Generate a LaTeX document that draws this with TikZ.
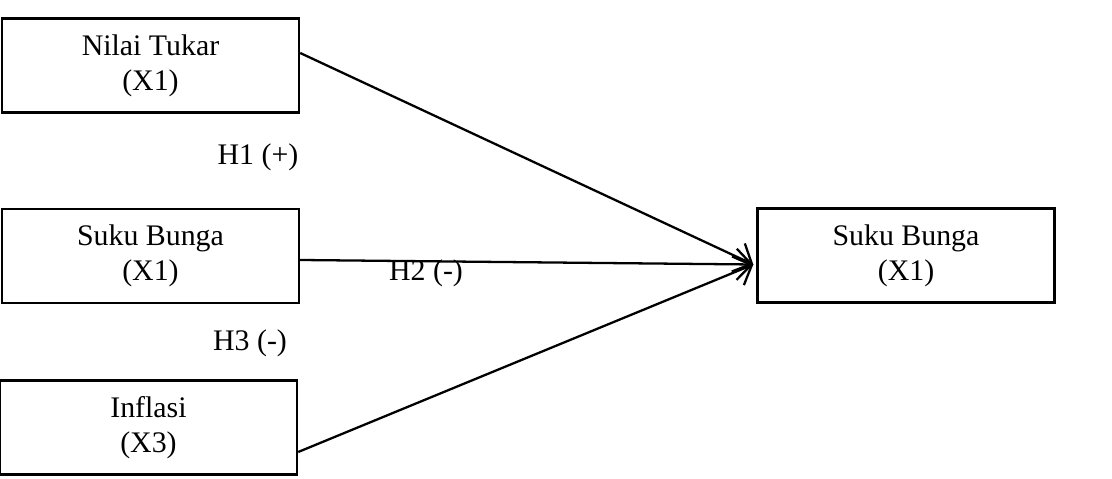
\documentclass[tikz,border=0pt]{standalone}
\usepackage{fontspec}
\setmainfont{Liberation Serif}
\usetikzlibrary{arrows.meta,positioning}

\begin{document}
\begin{tikzpicture}[
  x=0.02cm, y=-0.02cm,
  box/.style={draw, line width=1.4pt, align=center,
    font=\fontsize{17}{20}\selectfont,
    minimum width=5.94cm, minimum height=1.88cm, inner sep=0pt},
  hyp/.style={font=\fontsize{17}{19}\selectfont, inner sep=0pt},
  arrow/.style={-{Straight Barb[length=0.3cm, width=0.62cm, line width=1.3pt]}, line width=1.3pt}
]
\useasboundingbox (0,0) rectangle (1112,479);
\node[box] (nilai) at (150.5,65.5) {Nilai Tukar\\(X1)};
\node[box] (bunga) at (150.5,256) {Suku Bunga\\(X1)};
\node[box] (inflasi) at (148.5,427.5) {Inflasi\\(X3)};
\node[box] (hasil) at (906,255.5) {Suku Bunga\\(X1)};
\coordinate (hub) at ([xshift=-0.06cm, yshift=-0.18cm]hasil.west);

\node[hyp] (h1) at (258,157) {H1 (+)};
\node[hyp] (h2) at (426,273) {H2 (-)};
\node[hyp] (h3) at (250,343) {H3 (-)};

\draw[arrow] ([yshift=0.25cm]nilai.east) -- (hub);
\draw[arrow] ([yshift=-0.08cm]bunga.east) -- (hub);
\draw[arrow] ([yshift=-0.49cm]inflasi.east) -- (hub);
\end{tikzpicture}
\end{document}
